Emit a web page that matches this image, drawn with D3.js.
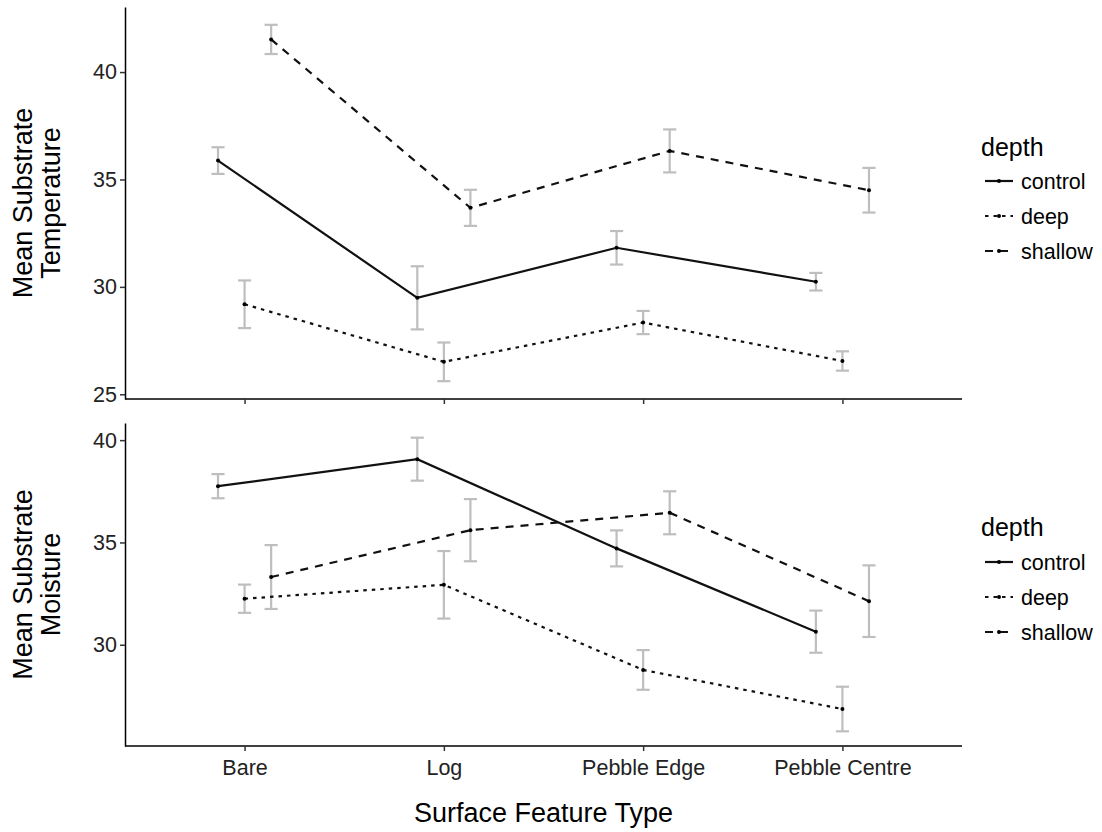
<!DOCTYPE html>
<html>
<head>
<meta charset="utf-8">
<script src="https://cdn.jsdelivr.net/npm/d3@7"></script>
<style>
  html, body { margin: 0; padding: 0; background: #fff; }
  svg { display: block; font-family: "Liberation Sans", Arial, Helvetica, sans-serif; }
</style>
</head>
<body>
<svg id="chart" width="1102" height="832"></svg>
<script>
// Surface feature categories on the shared x axis
const categories = ["Bare", "Log", "Pebble Edge", "Pebble Centre"];
const depths = ["control", "deep", "shallow"];

// Mean substrate temperature and standard errors, by depth
const tempControl = [35.88, 29.49, 31.82, 30.24];
const tempDeep    = [29.19, 26.51, 28.34, 26.55];
const tempShallow = [41.52, 33.68, 36.33, 34.50];
const tempControlSE = [0.62, 1.47, 0.78, 0.41];
const tempDeepSE    = [1.11, 0.90, 0.54, 0.45];
const tempShallowSE = [0.68, 0.84, 1.00, 1.04];

// Mean substrate moisture and standard errors, by depth
const moistControl = [37.75, 39.07, 34.71, 30.64];
const moistDeep    = [32.25, 32.93, 28.77, 26.86];
const moistShallow = [33.31, 35.60, 36.45, 32.13];
const moistControlSE = [0.59, 1.05, 0.88, 1.03];
const moistDeepSE    = [0.69, 1.65, 0.97, 1.09];
const moistShallowSE = [1.56, 1.52, 1.05, 1.75];

const yTicksTemp = [25, 30, 35, 40];
const yTicksMoist = [30, 35, 40];

const dashes = { control: null, deep: "3.5,5", shallow: "8,7" };

function rows(meanArrs, seArrs) {
  const out = [];
  depths.forEach((d, i) => {
    categories.forEach((c, j) => {
      out.push({ depth: d, cat: c, mean: meanArrs[i][j], se: seArrs[i][j] });
    });
  });
  return out;
}

const panels = [
  {
    data: rows([tempControl, tempDeep, tempShallow], [tempControlSE, tempDeepSE, tempShallowSE]),
    top: 7, bottom: 399, ticks: yTicksTemp,
    title: ["Mean Substrate", "Temperature"],
    legendY: 156, keyY0: 181, xLabels: false
  },
  {
    data: rows([moistControl, moistDeep, moistShallow], [moistControlSE, moistDeepSE, moistShallowSE]),
    top: 423, bottom: 746, ticks: yTicksMoist,
    title: ["Mean Substrate", "Moisture"],
    legendY: 536, keyY0: 562, xLabels: true
  }
];

const svg = d3.select("#chart");
const left = 125, right = 962;

const x = d3.scalePoint().domain(categories).range([left, right]).padding(0.6);
const step = x.step();
const dodge = d3.scalePoint().domain(depths).range([-0.1333 * step, 0.1333 * step]);
const capHalf = 0.033 * step;

panels.forEach(p => {
  const g = svg.append("g");
  const lo = d3.min(p.data, d => d.mean - d.se);
  const hi = d3.max(p.data, d => d.mean + d.se);
  const pad = (hi - lo) * 0.05;
  const y = d3.scaleLinear().domain([lo - pad, hi + pad]).range([p.bottom, p.top]);

  // error bars
  const eb = g.append("g").attr("stroke", "#bebebe").attr("stroke-width", 2.2).attr("fill", "none");
  p.data.forEach(d => {
    const cx = x(d.cat) + dodge(d.depth);
    const y1 = y(d.mean + d.se), y2 = y(d.mean - d.se);
    eb.append("line").attr("x1", cx).attr("x2", cx).attr("y1", y1).attr("y2", y2);
    eb.append("line").attr("x1", cx - capHalf).attr("x2", cx + capHalf).attr("y1", y1).attr("y2", y1);
    eb.append("line").attr("x1", cx - capHalf).attr("x2", cx + capHalf).attr("y1", y2).attr("y2", y2);
  });

  // lines per depth
  const line = d3.line().x(d => x(d.cat) + dodge(d.depth)).y(d => y(d.mean));
  depths.forEach(dep => {
    const series = p.data.filter(d => d.depth === dep);
    g.append("path").datum(series)
      .attr("d", line)
      .attr("fill", "none")
      .attr("stroke", "#111")
      .attr("stroke-width", 2.2)
      .attr("stroke-dasharray", dashes[dep]);
    g.selectAll(null).data(series).enter().append("circle")
      .attr("cx", d => x(d.cat) + dodge(d.depth))
      .attr("cy", d => y(d.mean))
      .attr("r", 2)
      .attr("fill", "#000");
  });

  // y axis
  const ya = g.append("g").attr("transform", `translate(${left},0)`)
    .call(d3.axisLeft(y).tickValues(p.ticks).tickSize(5).tickPadding(3).tickSizeOuter(0));
  ya.select(".domain").attr("stroke", "#000").attr("stroke-width", 1.5);
  ya.selectAll(".tick line").attr("stroke", "#333").attr("stroke-width", 1.5);
  ya.selectAll(".tick text").attr("font-size", 21.5).attr("fill", "#222")
    .attr("font-family", "Liberation Sans, Arial, sans-serif");

  // x axis
  const xa = g.append("g").attr("transform", `translate(0,${p.bottom})`)
    .call(d3.axisBottom(x).tickSize(5).tickPadding(9).tickSizeOuter(0));
  xa.select(".domain").attr("stroke", "#000").attr("stroke-width", 1.5)
    .attr("d", `M${left},0H${right}`);
  xa.selectAll(".tick line").attr("stroke", "#333").attr("stroke-width", 1.5);
  xa.selectAll(".tick text").attr("font-size", 21.5).attr("fill", "#222")
    .attr("font-family", "Liberation Sans, Arial, sans-serif")
    .style("display", p.xLabels ? null : "none");

  // y title (two lines)
  const yc = (p.top + p.bottom) / 2;
  p.title.forEach((t, i) => {
    g.append("text")
      .attr("transform", `translate(${32 + i * 28},${yc}) rotate(-90)`)
      .attr("text-anchor", "middle")
      .attr("font-size", 27)
      .attr("fill", "#000")
      .text(t);
  });

  // legend
  const lg = g.append("g");
  lg.append("text").attr("x", 981).attr("y", p.legendY)
    .attr("font-size", 25).attr("fill", "#000").text("depth");
  depths.forEach((dep, i) => {
    const ky = p.keyY0 + i * 35;
    lg.append("line").attr("x1", 985).attr("x2", 1013).attr("y1", ky).attr("y2", ky)
      .attr("stroke", "#111").attr("stroke-width", 2.2)
      .attr("stroke-dasharray", dashes[dep]);
    lg.append("circle").attr("cx", 999).attr("cy", ky).attr("r", 2).attr("fill", "#000");
    lg.append("text").attr("x", 1021).attr("y", ky).attr("dy", "0.35em")
      .attr("font-size", 21.5).attr("fill", "#000").text(dep);
  });
});

// shared x-axis title
svg.append("text")
  .attr("x", (left + right) / 2)
  .attr("y", 822)
  .attr("text-anchor", "middle")
  .attr("font-size", 27)
  .attr("fill", "#000")
  .text("Surface Feature Type");
</script>
</body>
</html>
